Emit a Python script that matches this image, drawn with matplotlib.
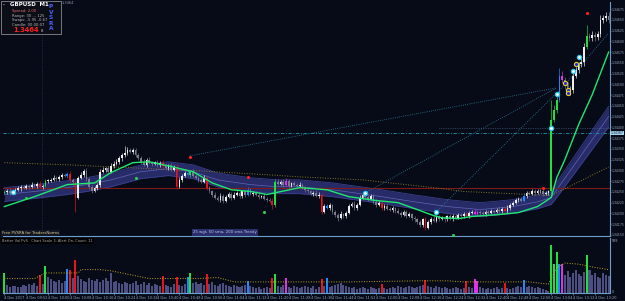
import matplotlib
matplotlib.use("Agg")
import matplotlib.pyplot as plt
from matplotlib.patches import Rectangle

# ---------------- data (prices stored as points above BASE) ----------------
BASE = 1.34000
PT = 1e-5
open0 = 248
close_pts = [
    250, 253, 248, 251, 255, 258, 262, 260, 264, 262,
    267, 264, 269, 262, 264, 276, 276, 278, 283, 281,
    285, 290, 287, 292, 278, 272, 237, 283, 290, 299,
    280, 262, 253, 258, 267, 297, 302, 306, 297, 311,
    316, 320, 329, 336, 341, 348, 343, 348, 336, 329,
    320, 313, 325, 318, 316, 320, 313, 318, 311, 306,
    313, 302, 309, 262, 278, 288, 295, 290, 297, 288,
    283, 278, 274, 283, 260, 251, 244, 237, 232, 241,
    230, 239, 246, 237, 244, 248, 241, 251, 244, 255,
    246, 248, 244, 239, 241, 234, 232, 230, 220, 274,
    269, 274, 267, 276, 264, 271, 267, 264, 267, 260,
    255, 251, 246, 248, 241, 244, 204, 218, 213, 220,
    204, 197, 190, 199, 195, 202, 218, 223, 213, 220,
    237, 244, 239, 234, 241, 227, 220, 225, 213, 218,
    211, 209, 213, 206, 202, 197, 204, 195, 199, 190,
    186, 179, 174, 186, 167, 181, 188, 183, 193, 188,
    190, 186, 193, 188, 195, 190, 197, 193, 199, 195,
    202, 204, 199, 204, 202, 199, 204, 202, 206, 204,
    209, 206, 211, 206, 213, 220, 225, 232, 234, 230,
    241, 248, 246, 253, 248, 251, 253, 246, 248, 251,
    418, 441, 464, 520, 510, 499, 483, 487, 520, 534,
    547, 552, 587, 612, 608, 615, 610, 617, 650, 654,
    659, 650]
upper_wick = [
    4, 3, 5, 2, 4, 6, 3, 5, 4, 3, 5, 4, 3, 6, 4, 5, 3, 4, 6, 5,
    4, 3, 5, 4, 6, 5, 4, 3, 7, 5, 6, 4, 3, 5, 4, 6, 5, 3, 4, 7,
    5, 6, 4, 5, 16, 6, 5, 4, 3, 5, 4, 6, 3, 5, 4, 3, 5, 4, 6, 4,
    3, 5, 4, 5, 6, 4, 3, 5, 4, 6, 5, 3, 4, 6, 5, 4, 3, 5, 4, 6,
    4, 5, 3, 4, 6, 4, 5, 3, 4, 6, 5, 3, 4, 5, 3, 6, 4, 3, 5, 7,
    6, 4, 5, 7, 4, 3, 5, 4, 6, 3, 4, 5, 3, 4, 6, 5, 4, 3, 5, 4,
    3, 5, 4, 6, 3, 4, 5, 3, 6, 4, 5, 6, 4, 3, 5, 4, 6, 3, 4, 5,
    3, 4, 5, 3, 6, 4, 3, 5, 4, 3, 4, 3, 5, 4, 6, 3, 4, 5, 3, 4,
    5, 3, 4, 6, 3, 4, 5, 3, 4, 5, 3, 4, 6, 5, 3, 4, 3, 5, 4, 3,
    4, 5, 3, 4, 6, 5, 4, 3, 5, 4, 6, 4, 5, 3, 4, 5, 3, 4, 5, 3,
    46, 12, 14, 18, 10, 8, 6, 9, 8, 7, 6, 9, 8, 26, 7, 9, 6, 8, 10, 7,
    8, 9]
lower_wick = [
    3, 5, 4, 3, 6, 4, 5, 3, 4, 5, 4, 3, 5, 4, 6, 3, 5, 4, 3, 6,
    5, 4, 3, 5, 4, 6, 33, 4, 3, 5, 4, 6, 5, 4, 3, 5, 4, 6, 3, 4,
    5, 3, 4, 6, 4, 5, 3, 4, 6, 5, 4, 3, 5, 4, 6, 3, 4, 5, 6, 4,
    5, 4, 3, 6, 4, 5, 3, 4, 5, 4, 3, 5, 4, 3, 6, 4, 5, 3, 4, 5,
    6, 4, 3, 5, 4, 3, 6, 4, 5, 3, 4, 5, 3, 6, 4, 3, 5, 4, 9, 5,
    4, 3, 5, 4, 6, 3, 4, 5, 3, 4, 5, 3, 4, 6, 3, 4, 5, 4, 3, 5,
    6, 5, 8, 4, 6, 5, 3, 4, 6, 5, 3, 4, 5, 6, 3, 4, 5, 3, 4, 5,
    4, 3, 5, 4, 3, 6, 4, 5, 3, 6, 5, 4, 6, 5, 6, 4, 5, 3, 4, 5,
    4, 5, 3, 4, 6, 3, 4, 5, 4, 3, 5, 4, 3, 4, 5, 3, 4, 5, 3, 4,
    3, 4, 5, 3, 4, 5, 3, 4, 5, 4, 4, 5, 3, 4, 5, 3, 4, 5, 3, 4,
    5, 6, 8, 6, 7, 9, 6, 8, 7, 6, 8, 7, 9, 6, 8, 7, 9, 6, 8, 7,
    6, 8]
volume = [
    200, 80, 60, 70, 75, 60, 65, 80, 70, 90,
    85, 100, 70, 180, 90, 270, 160, 140, 120, 110,
    130, 100, 120, 245, 235, 150, 340, 170, 140, 120,
    110, 150, 130, 120, 140, 115, 130, 150, 120, 200,
    110, 120, 100, 90, 110, 100, 90, 100, 120, 80,
    90, 110, 80, 100, 70, 90, 80, 70, 170, 80,
    70, 60, 90, 160, 80, 70, 90, 160, 200, 100,
    110, 90, 100, 80, 190, 90, 110, 80, 70, 90,
    100, 80, 70, 60, 80, 70, 60, 70, 80, 125,
    70, 60, 50, 60, 40, 50, 60, 50, 150, 190,
    70, 60, 80, 150, 60, 50, 70, 60, 50, 60,
    70, 60, 50, 70, 40, 60, 145, 70, 150, 60,
    70, 80, 90, 100, 80, 70, 60, 50, 60, 40,
    50, 60, 50, 40, 60, 50, 40, 50, 90, 50,
    40, 50, 60, 50, 70, 60, 50, 60, 70, 60,
    50, 60, 70, 80, 130, 70, 60, 50, 70, 60,
    50, 60, 50, 40, 50, 60, 50, 40, 50, 120,
    60, 50, 145, 125, 60, 50, 40, 50, 40, 50,
    60, 40, 50, 100, 50, 40, 50, 60, 70, 60,
    130, 60, 70, 60, 50, 60, 50, 40, 30, 20,
    490, 295, 420, 300, 300, 180, 220, 160, 200, 230,
    190, 170, 210, 390, 230, 180, 200, 160, 150, 200,
    180, 170]

# PVSRA colored candles / volume bars
green_idx = [0, 15, 68, 99, 200, 201, 202, 213]
red_idx = [13, 24, 26, 58, 63, 74, 98, 116, 138, 154, 169, 183]
blue_idx = [23, 67, 89, 118, 190, 203]
magenta_idx = [103, 172, 173, 204]

# indicator lines (knots)
fast_idx = [0, 11, 23, 33, 39, 47, 53, 61, 69, 76, 83, 90, 96, 99, 108, 118, 126,
            136, 144, 151, 157, 160, 166, 171, 180, 188, 195, 200, 202, 205, 210, 215, 221]
fast_pts = [216, 239, 267, 271, 295, 318, 320, 309, 297, 271, 255, 251, 244, 248, 260, 255, 239,
            230, 225, 209, 195, 190, 188, 193, 197, 202, 216, 237, 283, 325, 406, 476, 575]
band_idx = [0, 11, 23, 30, 39, 50, 60, 69, 78, 90, 100, 108, 120, 138, 150, 162, 174,
            186, 195, 200, 202, 221]
band_mid = [244, 251, 260, 267, 278, 297, 304, 297, 278, 267, 262, 262, 255, 239, 227, 216, 209,
            216, 227, 237, 255, 425]
band_hi = [260, 267, 276, 283, 294, 313, 320, 313, 294, 283, 278, 278, 271, 255, 243, 232, 225,
           232, 243, 253, 273, 449]
band_lo = [228, 235, 244, 251, 262, 281, 288, 281, 262, 251, 246, 246, 239, 223, 211, 200, 193,
           200, 211, 221, 237, 401]
sma200_idx = [0, 23, 47, 71, 96, 108, 131, 157, 168, 192, 200, 202, 221]
sma200_pts = [318, 313, 306, 299, 290, 285, 278, 260, 251, 244, 241, 248, 308]
vavg_idx = [0, 11, 15, 27, 28, 35, 39, 47, 53, 71, 78, 84, 108, 126, 152, 162, 168, 192,
            199, 202, 205, 210, 216, 221]
vavg = [147, 147, 204, 204, 238, 238, 226, 181, 147, 147, 158, 113, 113, 113, 124, 124, 113, 113,
        90, 260, 305, 294, 260, 238]

# signal markers
red_dot_idx = [68, 89, 197, 213]
red_dot_pts = [331, 284, 259, 666]
green_dot_idx = [8, 48, 95, 164]
green_dot_pts = [236, 283, 204, 150]
cyan_idx = [3, 132, 158, 200, 202, 208, 210]
cyan_pts = [250, 248, 204, 399, 478, 531, 564]
yellow_idx = [205, 206, 206, 209]
yellow_pts = [503, 487, 480, 547]
diag_x0 = [68, 132, 158, 202]
diag_y0 = [334, 248, 204, 478]
diag_x1 = [202, 202, 202, 221]
diag_y1 = [492, 492, 480, 619]

red_level = 1.34259
cyan_level = 1.34387
grey_level = 1.34398
grey_level_start = 159
sep_idx = 13.7

price_ticks = [1.34150, 1.34175, 1.34200, 1.34225, 1.34250, 1.34275, 1.34300, 1.34325,
               1.34350, 1.34375, 1.34400, 1.34425, 1.34450, 1.34475, 1.34500, 1.34525,
               1.34550, 1.34575, 1.34600, 1.34625, 1.34650, 1.34675]
time_labels = ["4 Dec 2017", "4 Dec 09:52", "4 Dec 10:00", "4 Dec 10:08", "4 Dec 10:16",
               "4 Dec 10:24", "4 Dec 10:32", "4 Dec 10:40", "4 Dec 10:48", "4 Dec 10:56",
               "4 Dec 11:04", "4 Dec 11:12", "4 Dec 11:20", "4 Dec 11:28", "4 Dec 11:36",
               "4 Dec 11:44", "4 Dec 11:52", "4 Dec 12:00", "4 Dec 12:08", "4 Dec 12:16",
               "4 Dec 12:24", "4 Dec 12:32", "4 Dec 12:40", "4 Dec 12:48", "4 Dec 12:56",
               "4 Dec 13:04", "4 Dec 13:12", "4 Dec 13:20"]
time_label_idx = [8 * k for k in range(len(time_labels))]

# ---------------- drawing ----------------
BG = "#060b17"
AX = "#6e9fcc"
TXT = "#9aa8bf"
W, H = 625, 301
n = len(close_pts)
RIGHT = 610


def p(v):
    return BASE + v * PT


fig = plt.figure(figsize=(W / 100, H / 100), dpi=100, facecolor=BG)
ax = fig.add_axes([3 / W, 1 - 236 / H, (RIGHT - 3) / W, 234 / H], facecolor=BG)
axv = fig.add_axes([3 / W, 1 - 293 / H, (RIGHT - 3) / W, 55 / H], facecolor=BG)

for a in (ax, axv):
    a.set_xlim(-0.5, n - 0.5)
    for s in ("top", "left"):
        a.spines[s].set_visible(False)
    a.spines["right"].set_color(AX)
    a.spines["bottom"].set_color(AX)
    a.spines["right"].set_linewidth(0.8)
    a.spines["bottom"].set_linewidth(0.8)

ax.set_ylim(p(147.6), p(691.3))

special = {}
for i in green_idx:
    special[i] = "#22dd44"
for i in red_idx:
    special[i] = "#e8141c"
for i in blue_idx:
    special[i] = "#1e88ff"
for i in magenta_idx:
    special[i] = "#e030e8"

# band
ax.fill_between(band_idx, [p(v) for v in band_lo], [p(v) for v in band_hi],
                color="#272b68", lw=0, zorder=1)
ax.plot(band_idx, [p(v) for v in band_hi], color="#3a3f8c", lw=0.6, zorder=1.1)
ax.plot(band_idx, [p(v) for v in band_lo], color="#3a3f8c", lw=0.6, zorder=1.1)
ax.plot(band_idx, [p(v) for v in band_mid], color="#5e64b4", lw=0.5, zorder=1.2)

# 200 sma dotted
ax.plot(sma200_idx, [p(v) for v in sma200_pts], color="#8a7428", lw=0.7,
        ls=(0, (1, 1.6)), zorder=1.5)

# levels
ax.axhline(red_level, color="#7e1a1a", lw=0.8, zorder=1.4)
ax.axhline(cyan_level, color="#1c9aaa", lw=0.6, ls=(0, (4, 2, 1, 2)), zorder=1.4)
ax.plot([grey_level_start, n - 0.5], [grey_level, grey_level], color="#4c6a88", lw=0.5,
        ls=(0, (1, 1.5)), zorder=1.4)
ax.axvline(sep_idx, color="#3a4a5e", lw=0.5, ls=(0, (1, 2)), zorder=1.3)

# diagonal dotted lines
for x0, y0, x1, y1 in zip(diag_x0, diag_y0, diag_x1, diag_y1):
    ax.plot([x0, x1], [p(y0), p(y1)], color="#2d7c9c", lw=0.6, ls=(0, (1, 1.6)), zorder=1.6)

# candles
prev = open0
xs, bots, hts, cols, lo_l, hi_l = [], [], [], [], [], []
for i, c in enumerate(close_pts):
    o = prev
    up = c >= o
    col = special.get(i, "#eeeeee" if up else "#7c7c88")
    b = min(o, c)
    h = max(abs(c - o), 1.2)
    xs.append(i)
    bots.append(p(b))
    hts.append(h * PT)
    cols.append(col)
    hi_l.append(p(max(o, c) + upper_wick[i]))
    lo_l.append(p(b - lower_wick[i]))
    prev = c
ax.vlines(xs, lo_l, hi_l, colors=cols, lw=0.45, zorder=3)
ax.bar(xs, hts, bottom=bots, width=0.62, color=cols, lw=0, zorder=3.1)

# fast MA
ax.plot(fast_idx, [p(v) for v in fast_pts], color="#1ee870", lw=1.0, zorder=4)

# markers
ax.scatter(red_dot_idx, [p(v) for v in red_dot_pts], s=5, color="#ff2222", zorder=5, lw=0)
ax.scatter(green_dot_idx, [p(v) for v in green_dot_pts], s=5, color="#2ecc55", zorder=5,
           lw=0, clip_on=False)
ax.scatter(cyan_idx, [p(v) for v in cyan_pts], s=9, facecolor="#ffffff", edgecolor="#22c8f2",
           lw=0.9, zorder=5)
ax.scatter(yellow_idx, [p(v) for v in yellow_pts], s=9, facecolor="#1a2ae8", edgecolor="#e8d020",
           lw=0.8, zorder=5)

# price axis
ax.yaxis.tick_right()
ax.set_yticks(price_ticks)
ax.set_yticklabels([f"{v:.5f}" for v in price_ticks])
ax.tick_params(axis="y", colors=TXT, labelsize=2.25, length=1.0, width=0.4, pad=0.5)
ax.tick_params(axis="x", length=0, labelbottom=False)
ax.text(1.0012, cyan_level, f"{cyan_level:.5f}", transform=ax.get_yaxis_transform(),
        fontsize=2.25, color="#0a1a2a", va="center", ha="left", zorder=10, clip_on=False,
        bbox=dict(boxstyle="square,pad=0.1", fc="#a8d4ee", ec="none"))

# volume panel
vcols = [special.get(i, "#4c4f80") for i in range(n)]
axv.bar(range(n), volume, width=0.74, color=vcols, lw=0, zorder=2)
axv.plot(vavg_idx, vavg, color="#c8a21e", lw=0.7, ls=(0, (1, 1.6)), zorder=3)
axv.set_ylim(0, 560)
axv.set_yticks([])
axv.set_xticks(time_label_idx)
axv.set_xticklabels(time_labels)
axv.tick_params(axis="x", colors=TXT, labelsize=2.5, length=1.5, width=0.4, pad=1)
for lbl in axv.get_xticklabels():
    lbl.set_ha("left")
axv.text(1.003, 525, "599", transform=axv.get_yaxis_transform(), fontsize=2.4, color=TXT,
         va="center", ha="left")
axv.text(1.003, 12, "0", transform=axv.get_yaxis_transform(), fontsize=2.4, color=TXT,
         va="center", ha="left")


def fx(x):
    return x / W


def fy(y):
    return 1 - y / H


# info box
fig.patches.append(Rectangle((fx(1), fy(34)), 60 / W, 33 / H, transform=fig.transFigure,
                             fc="#0b0e16", ec="#8a8a8a", lw=0.6, zorder=20))
fig.text(fx(3), fy(4.5), "-", color="#ffffff", fontsize=4, va="center", zorder=21)
fig.text(fx(10), fy(5), "GBPUSD  M1", color="#ffffff", fontsize=4, fontweight="bold",
         va="center", zorder=21)
fig.text(fx(12), fy(11), "Spread: 2.00", color="#e86a6a", fontsize=2.7, va="center", zorder=21)
fig.text(fx(12), fy(15.5), "Range: 30 ... 125", color="#b8b8b8", fontsize=2.7, va="center", zorder=21)
fig.text(fx(12), fy(20), "Swaps: -5.95 -0.67", color="#b8b8b8", fontsize=2.7, va="center", zorder=21)
fig.text(fx(12), fy(24.5), "Candle: 00:00:07", color="#b8b8b8", fontsize=2.7, va="center", zorder=21)
fig.text(fx(13), fy(30), "1.3464", color="#ff1e1e", fontsize=4.8, fontweight="bold",
         va="center", zorder=21)
fig.text(fx(41), fy(30.5), "8", color="#c8c8c8", fontsize=2.8, va="center", zorder=21)
for k, ch in enumerate("PVSRA"):
    fig.text(fx(51), fy(6.5 + 5.6 * k), ch, color="#4a60ff", fontsize=4.2, fontweight="bold",
             va="center", ha="center", zorder=21)
fig.text(fx(62), fy(3), "1.3464", color="#8a94a8", fontsize=2.6, va="center")

# panel labels
fig.text(fx(2), fy(233), "Free PVSRA for TradersNorms", color="#d9c98c", fontsize=2.8,
         va="center", zorder=21,
         bbox=dict(boxstyle="square,pad=0.2", fc="#141824", ec="none"))
fig.text(fx(225), fy(232.5), "25 wgt, 50 sma, 200 sma Trendy", color="#c4c6dc", fontsize=2.8,
         va="center", ha="center", zorder=21,
         bbox=dict(boxstyle="square,pad=0.3", fc="#2a2e6c", ec="none"))
fig.text(fx(2), fy(241), "Better Vol PvS   Chart Scale 3, Alert On, Count: 11", color="#a8a8a8",
         fontsize=2.6, va="center", zorder=21,
         bbox=dict(boxstyle="square,pad=0.3", fc="#000000", ec="none"))

fig.savefig("out.png", dpi=100, facecolor=BG)
